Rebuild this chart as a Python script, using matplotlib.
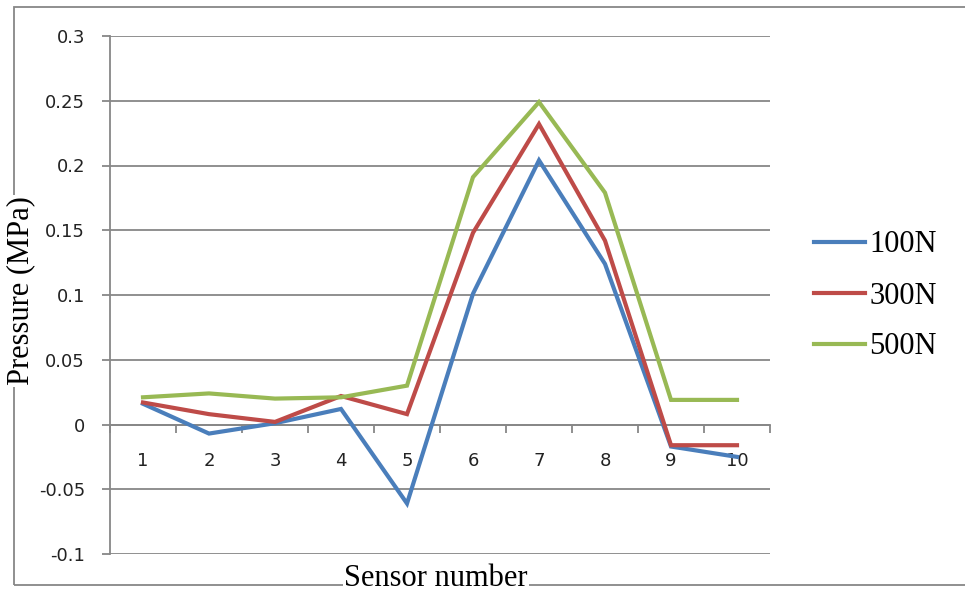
import matplotlib.pyplot as plt
from matplotlib.patches import Rectangle
from matplotlib.ticker import FixedLocator

# data
sensors = [1, 2, 3, 4, 5, 6, 7, 8, 9, 10]
p100 = [0.016, -0.007, 0.001, 0.012, -0.061, 0.101, 0.204, 0.124, -0.017, -0.025]
p300 = [0.017, 0.008, 0.002, 0.022, 0.008, 0.148, 0.232, 0.142, -0.016, -0.016]
p500 = [0.021, 0.024, 0.020, 0.021, 0.030, 0.191, 0.249, 0.179, 0.019, 0.019]
series_names = ['100N', '300N', '500N']
y_ticks = [-0.1, -0.05, 0, 0.05, 0.1, 0.15, 0.2, 0.25, 0.3]
y_labels = ['-0.1', '-0.05', '0', '0.05', '0.1', '0.15', '0.2', '0.25', '0.3']

colors = ['#4A7EBB', '#BE4B48', '#98B954']
grey = '#878787'
serif = 'Liberation Serif'

fig = plt.figure(figsize=(9.65, 5.94), dpi=100)
ax = fig.add_axes([110 / 965, 1 - 554 / 594, 660 / 965, 518 / 594])

for vals, name, c in zip([p100, p300, p500], series_names, colors):
    ax.plot(sensors, vals, color=c, lw=3, label=name, solid_joinstyle='miter', zorder=3)

ax.set_xlim(0.5, 10.5)
ax.set_ylim(-0.1, 0.3)

# y axis
ax.set_yticks(y_ticks)
ax.set_yticklabels(y_labels)
ax.yaxis.grid(True, color=grey, lw=1.3)
ax.set_axisbelow(True)
ax.tick_params(axis='y', direction='out', length=6, width=1.3, color=grey,
               pad=12, labelsize=13, labelcolor='#222222')

# x axis crosses at zero, ticks between categories
for s in ['top', 'right']:
    ax.spines[s].set_visible(False)
ax.spines['left'].set_color(grey)
ax.spines['left'].set_linewidth(1.3)
ax.spines['bottom'].set_position(('data', 0))
ax.spines['bottom'].set_color(grey)
ax.spines['bottom'].set_linewidth(1.3)
ax.set_xticks(sensors)
ax.set_xticklabels([str(s) for s in sensors])
ax.xaxis.set_minor_locator(FixedLocator([s + 0.5 for s in range(0, 11)]))
ax.tick_params(axis='x', which='major', length=0, pad=20, labelsize=13,
               labelcolor='#222222')
ax.tick_params(axis='x', which='minor', direction='out', length=6, width=1.3,
               color=grey)

# outer chart border
fig.patches.append(Rectangle((14 / 965, 1 - 585 / 594), 1.0, 578 / 594,
                             transform=fig.transFigure, fill=False,
                             edgecolor=grey, lw=1.3, zorder=0))

fig.text(21 / 965, 1 - 291 / 594, 'Pressure (MPa)', rotation=90,
         ha='center', va='center', fontsize=22, family=serif,
         bbox=dict(facecolor='white', edgecolor='none', pad=1))
fig.text(436 / 965, 1 - 578 / 594, 'Sensor number', ha='center', va='center',
         fontsize=22, family=serif,
         bbox=dict(facecolor='white', edgecolor='none', pad=1))

leg = fig.legend(loc='center left', bbox_to_anchor=(786 / 965, 1 - 296 / 594),
                 frameon=False, prop={'family': serif, 'size': 22},
                 handlelength=1.7, handletextpad=0.12, labelspacing=0.72)

fig.savefig('out.png', dpi=100)
